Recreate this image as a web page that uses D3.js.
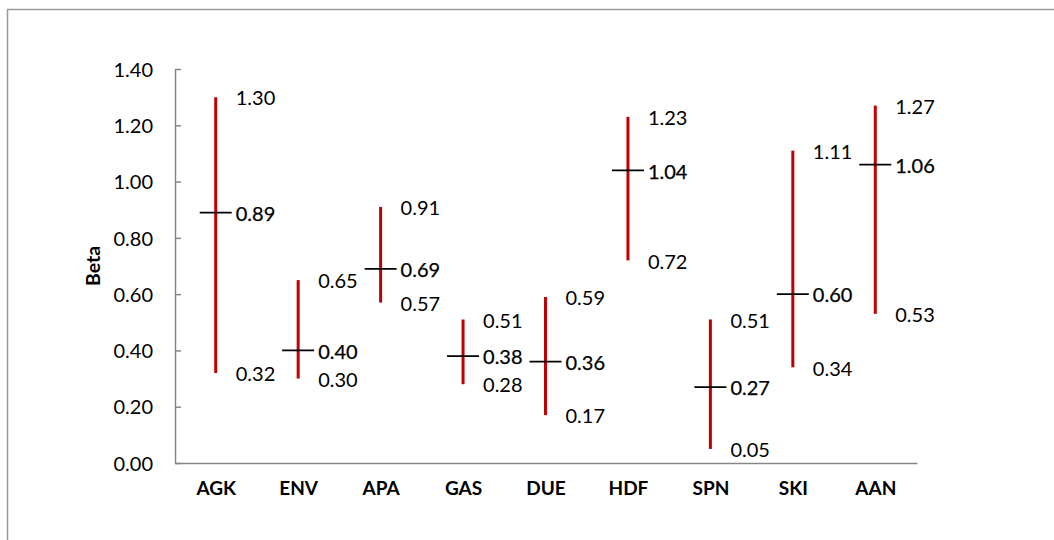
<!DOCTYPE html>
<html>
<head>
<meta charset="utf-8">
<script src="https://cdn.jsdelivr.net/npm/d3@7"></script>
<style>
  html, body { margin: 0; padding: 0; background: #fff; }
  svg { display: block; }
  text { font-family: Lato, "Open Sans", sans-serif; }
</style>
</head>
<body>
<svg id="chart" width="1054" height="540"></svg>
<script>
const categories = ["AGK", "ENV", "APA", "GAS", "DUE", "HDF", "SPN", "SKI", "AAN"];
const highValues = [1.30, 0.65, 0.91, 0.51, 0.59, 1.23, 0.51, 1.11, 1.27];
const lowValues  = [0.32, 0.30, 0.57, 0.28, 0.17, 0.72, 0.05, 0.34, 0.53];
const meanValues = [0.89, 0.40, 0.69, 0.38, 0.36, 1.04, 0.27, 0.60, 1.06];
const yTicks = [0, 0.2, 0.4, 0.6, 0.8, 1.0, 1.2, 1.4];
const yTitle = "Beta";

const svg = d3.select("#chart");

// outer chart border
svg.append("rect")
  .attr("x", 7.5).attr("y", 9.5)
  .attr("width", 1100).attr("height", 600)
  .attr("fill", "none").attr("stroke", "#9a9a9a").attr("stroke-width", 1.5);

const x = d3.scaleBand().domain(categories).range([175, 917]).padding(0);
const y = d3.scaleLinear().domain([0, 1.4]).range([463, 69]);
const cx = c => x(c) + x.bandwidth() / 2 - 0.5;

// Y axis
const yAxis = svg.append("g").attr("transform", "translate(175,0)")
  .call(d3.axisLeft(y).tickValues(yTicks).tickFormat(d3.format(".2f"))
    .tickSizeInner(-6).tickSizeOuter(0).tickPadding(22));
yAxis.select(".domain").attr("stroke", "#868686").attr("stroke-width", 1.5);
yAxis.selectAll(".tick line").attr("stroke", "#868686").attr("stroke-width", 1.5);
yAxis.selectAll(".tick text").attr("font-size", 20).attr("fill", "#000")
  .attr("font-family", "Lato, sans-serif").attr("dy", "0.36em");

// X axis
const xAxis = svg.append("g").attr("transform", "translate(0,463)")
  .call(d3.axisBottom(x).tickSize(0).tickPadding(22));
xAxis.select(".domain").attr("stroke", "#868686").attr("stroke-width", 1.5);
xAxis.selectAll(".tick text").attr("font-size", 19).attr("font-weight", "bold")
  .attr("fill", "#000").attr("font-family", "Lato, sans-serif").attr("dy", "0.5em");

// Y title
svg.append("text")
  .attr("transform", `translate(100,${(y(0) + y(1.4)) / 2}) rotate(-90)`)
  .attr("text-anchor", "middle")
  .attr("font-size", 19.5).attr("font-weight", "bold").attr("fill", "#000")
  .text(yTitle);

const rows = categories.map((c, i) => ({ c, hi: highValues[i], lo: lowValues[i], m: meanValues[i] }));
const fmt = d3.format(".2f");

// high-low lines
svg.append("g").selectAll("line").data(rows).join("line")
  .attr("x1", d => cx(d.c)).attr("x2", d => cx(d.c))
  .attr("y1", d => y(d.hi)).attr("y2", d => y(d.lo))
  .attr("stroke", "#C00000").attr("stroke-width", 3);

// mean ticks
svg.append("g").selectAll("line").data(rows).join("line")
  .attr("x1", d => cx(d.c) - 16).attr("x2", d => cx(d.c) + 16)
  .attr("y1", d => y(d.m)).attr("y2", d => y(d.m))
  .attr("stroke", "#000").attr("stroke-width", 1.75);

// labels
const lab = svg.append("g").attr("font-size", 20).attr("fill", "#000");
lab.selectAll("text.hi").data(rows).join("text").attr("class", "hi")
  .attr("x", d => cx(d.c) + 20).attr("y", d => y(d.hi) + 1).attr("dy", "0.36em")
  .text(d => fmt(d.hi));
lab.selectAll("text.lo").data(rows).join("text").attr("class", "lo")
  .attr("x", d => cx(d.c) + 20).attr("y", d => y(d.lo) + 1).attr("dy", "0.36em")
  .text(d => fmt(d.lo));
lab.selectAll("text.m").data(rows).join("text").attr("class", "m")
  .attr("x", d => cx(d.c) + 20).attr("y", d => y(d.m) + 1).attr("dy", "0.36em")
  .attr("stroke", "#000").attr("stroke-width", 0.25)
  .text(d => fmt(d.m));
</script>
</body>
</html>
